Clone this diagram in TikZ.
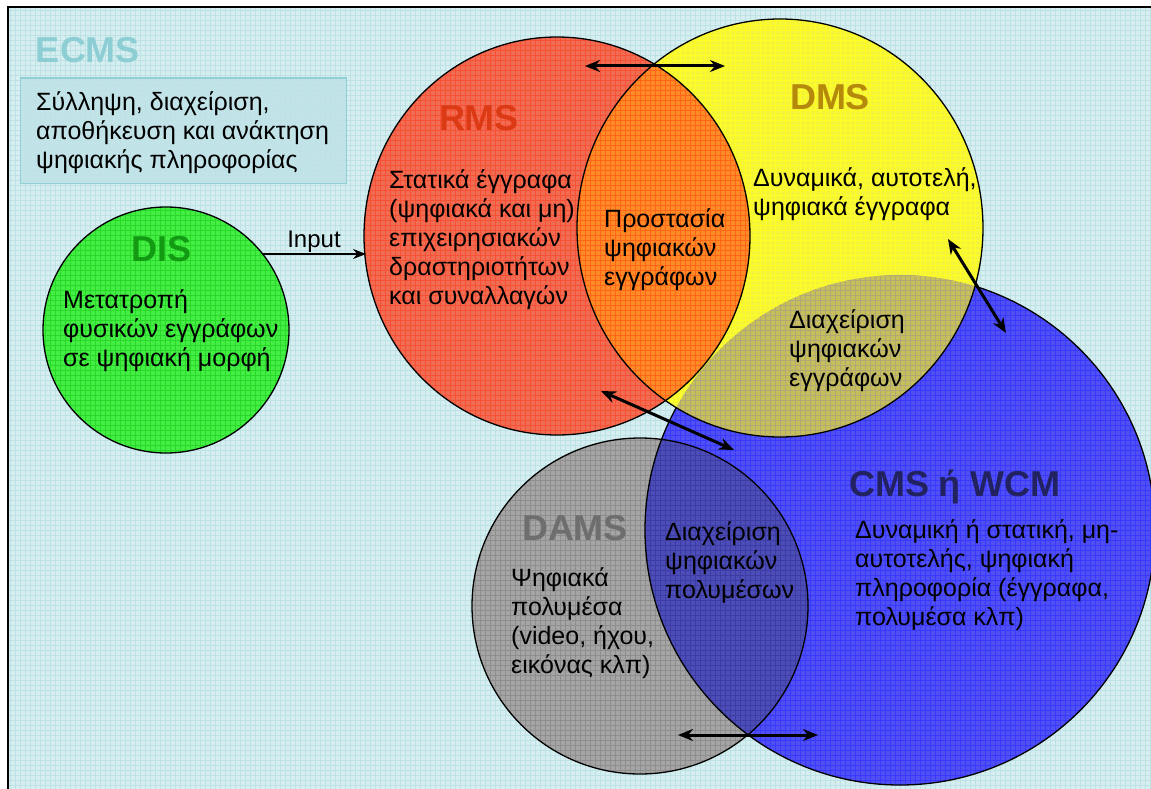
\documentclass[tikz,border=0pt]{standalone}
\usepackage{fontspec}
\setmainfont{Liberation Sans}
\usetikzlibrary{arrows.meta}

% palette
\definecolor{bgfill}{HTML}{D6EEF0}
\definecolor{bgline}{HTML}{BDE2E6}
\definecolor{boxfill}{HTML}{BFE3E7}
\definecolor{boxline}{HTML}{8FCFD5}
\definecolor{ecmsc}{HTML}{8CCED3}
\definecolor{greenfill}{HTML}{44EE44}
\definecolor{greenline}{HTML}{2AD82A}
\definecolor{disc}{HTML}{139A13}
\definecolor{redfill}{HTML}{F06C52}
\definecolor{redline}{HTML}{F85034}
\definecolor{rmsc}{HTML}{DB3A14}
\definecolor{yelfill}{HTML}{F4F43A}
\definecolor{yelline}{HTML}{FFFF20}
\definecolor{dmsc}{HTML}{B5890A}
\definecolor{orfill}{HTML}{FD8C26}
\definecolor{orline}{HTML}{FF6418}
\definecolor{olfill}{HTML}{C6BF5A}
\definecolor{olline}{HTML}{B0A878}
\definecolor{bluefill}{HTML}{5050F2}
\definecolor{blueline}{HTML}{3838FF}
\definecolor{cmsc}{HTML}{222260}
\definecolor{grayfill}{HTML}{A5A5A5}
\definecolor{grayline}{HTML}{8E8E8E}
\definecolor{damsc}{HTML}{6E6E6E}
\definecolor{dkfill}{HTML}{4D4DB8}
\definecolor{dkline}{HTML}{3C3CA4}

% region outlines
\newcommand{\shapeDIS}{(166,330) circle[radius=123pt]}
\newcommand{\shapeRMS}{(557,236) ellipse[x radius=193pt, y radius=199pt]}
\newcommand{\shapeDMS}{(780,228) ellipse[x radius=203pt, y radius=209pt]}
\newcommand{\shapeCMS}{(900,530) circle[radius=255pt]}
\newcommand{\shapeDAMS}{(640,606) circle[radius=168pt]}

% hatched fill of one region, or of the overlap of two
\newcommand{\gridfill}[3]{%
  \begin{scope}
    \clip #1;
    \fill[#2] (8,7) rectangle (1151,789);
    \draw[#3, line width=0.55pt] (8,7) grid[step=5pt] (1151,789);
  \end{scope}}
\newcommand{\gridfilltwo}[4]{%
  \begin{scope}
    \clip #1;
    \clip #2;
    \fill[#3] (8,7) rectangle (1151,789);
    \draw[#4, line width=0.55pt] (8,7) grid[step=5pt] (1151,789);
  \end{scope}}

\tikzset{
  body/.style={font=\fontsize{25}{29}\selectfont, align=left, inner sep=0pt, anchor=west},
  title/.style={font=\fontsize{36}{40}\selectfont\bfseries, inner sep=0pt, anchor=base},
  outline/.style={draw=black, line width=1.3pt},
  twoway/.style={{Stealth[length=15pt,width=12pt]}-{Stealth[length=15pt,width=12pt]}, line width=3pt},
  oneway/.style={-{Stealth[length=13pt,width=10pt]}, line width=1.6pt},
}

\begin{document}
\begin{tikzpicture}[x=1pt, y=-1pt]
\useasboundingbox (0,0) rectangle (1151,789);

% backdrop
\fill[bgfill] (8,7) rectangle (1151,789);
\draw[bgline, line width=0.55pt] (8,7) grid[step=5pt] (1151,789);
\draw[line width=2pt] (8,789) -- (8,7) -- (1151,7);

% ECMS heading and description box
\node[title, text=ecmsc] (ecms) at (88,63) {ECMS};
\node[draw=boxline, fill=boxfill, fill opacity=0.85, line width=1.5pt,
      minimum width=326pt, minimum height=105pt, anchor=north west, inner sep=0pt]
      (ecmsbox) at (19.5,77.5) {};
\node[body] (ecmstext) at (36,133)
  {Σύλληψη, διαχείριση,\\αποθήκευση και ανάκτηση\\ψηφιακής πληροφορίας};

% region centres
\coordinate (cDIS) at (166,330);
\coordinate (cRMS) at (557,236);
\coordinate (cDMS) at (780,228);
\coordinate (cCMS) at (900,530);
\coordinate (cDAMS) at (640,606);

% DAMS and CMS with their overlap
\gridfill{\shapeDAMS}{grayfill}{grayline}
\gridfill{\shapeCMS}{bluefill}{blueline}
\gridfilltwo{\shapeDAMS}{\shapeCMS}{dkfill}{dkline}
\draw[outline] \shapeDAMS;
\draw[outline] \shapeCMS;

% DIS
\gridfill{\shapeDIS}{greenfill}{greenline}
\draw[outline] \shapeDIS;

% RMS and DMS with their overlaps
\gridfill{\shapeRMS}{redfill}{redline}
\gridfill{\shapeDMS}{yelfill}{yelline}
\gridfilltwo{\shapeRMS}{\shapeDMS}{orfill}{orline}
\gridfilltwo{\shapeDMS}{\shapeCMS}{olfill}{olline}
\draw[outline] \shapeRMS;
\draw[outline] \shapeDMS;

% titles
\node[title, text=disc] (distitle) at (162,261) {DIS};
\node[title, text=rmsc] (rmstitle) at (479,131) {RMS};
\node[title, text=dmsc] (dmstitle) at (830,110) {DMS};
\node[title, text=cmsc] (cmstitle) at (955,496) {CMS ή WCM};
\node[title, text=damsc] (damstitle) at (575,540) {DAMS};

% descriptions
\node[body] (distext) at (63,331)
  {Μετατροπή\\φυσικών εγγράφων\\σε ψηφιακή μορφή};
\node[body] (rmstext) at (389,240)
  {Στατικά έγγραφα\\(ψηφιακά και μη)\\επιχειρησιακών\\δραστηριοτήτων\\και συναλλαγών};
\node[body] (protext) at (604,250)
  {Προστασία\\ψηφιακών\\εγγράφων};
\node[body] (dmstext) at (753,194)
  {Δυναμικά, αυτοτελή,\\ψηφιακά έγγραφα};
\node[body] (doctext) at (789,351)
  {Διαχείριση\\ψηφιακών\\εγγράφων};
\node[body] (cmstext) at (855,575)
  {Δυναμική ή στατική, μη-\\αυτοτελής, ψηφιακή\\πληροφορία (έγγραφα,\\πολυμέσα κλπ)};
\node[body] (damstext) at (511,623)
  {Ψηφιακά\\πολυμέσα\\(video, ήχου,\\εικόνας κλπ)};
\node[body] (mmtext) at (665,562)
  {Διαχείριση\\ψηφιακών\\πολυμέσων};

% input from DIS into RMS
\coordinate (inA) at (263,254);
\coordinate (inB) at (366,254);
\draw[oneway] (inA) -- (inB);
\node[font=\fontsize{24}{27}\selectfont, anchor=base, inner sep=0pt] (inputlbl) at (314,247) {Input};

% exchanges between neighbouring systems
\coordinate (a1l) at (585,66);
\coordinate (a1r) at (725,66);
\coordinate (a2a) at (601,391);
\coordinate (a2b) at (734,450);
\coordinate (a3a) at (948,239);
\coordinate (a3b) at (1006,333);
\coordinate (a4l) at (678,735);
\coordinate (a4r) at (818,735);
\draw[twoway] (a1l) -- (a1r);
\draw[twoway] (a2a) -- (a2b);
\draw[twoway] (a3a) -- (a3b);
\draw[twoway] (a4l) -- (a4r);
\end{tikzpicture}
\end{document}
